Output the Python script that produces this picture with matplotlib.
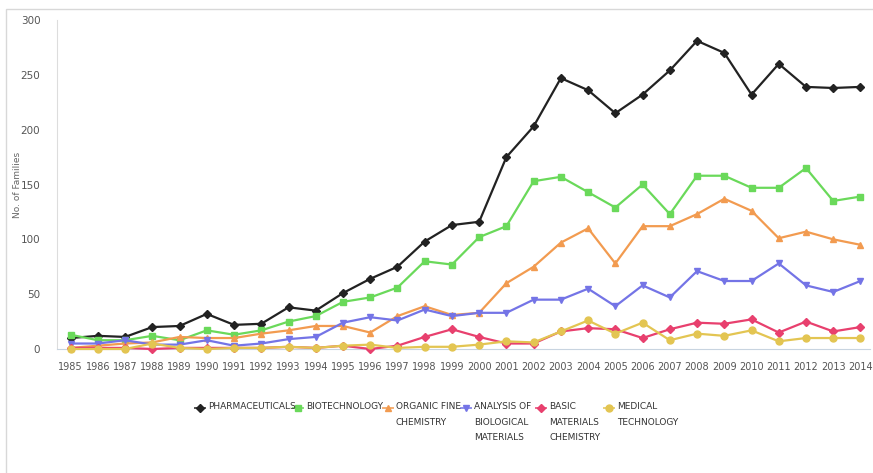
import matplotlib.pyplot as plt
from matplotlib.patches import Rectangle
from matplotlib.lines import Line2D

plt.rcParams['font.family'] = ['DejaVu Sans']

# data
years = list(range(1985, 2015))

pharma = [10, 12, 11, 20, 21, 32, 22, 23, 38, 35, 51, 64, 75, 98, 113, 116,
          175, 203, 247, 236, 215, 232, 254, 281, 270, 232, 260, 239, 238, 239]
biotech = [13, 8, 8, 12, 8, 17, 13, 17, 25, 30, 43, 47, 56, 80, 77, 102,
           112, 153, 157, 143, 129, 150, 123, 158, 158, 147, 147, 165, 135, 139]
organic = [1, 3, 5, 6, 11, 10, 10, 14, 17, 21, 21, 15, 30, 39, 31, 33,
           60, 75, 97, 110, 78, 112, 112, 123, 137, 126, 101, 107, 100, 95]
analysis = [5, 5, 8, 4, 4, 8, 3, 5, 9, 11, 24, 29, 26, 36, 30, 33,
            33, 45, 45, 55, 39, 58, 47, 71, 62, 62, 78, 58, 52, 62]
basic = [1, 1, 1, 0, 1, 1, 1, 1, 2, 1, 3, 0, 3, 11, 18, 11,
         5, 5, 16, 19, 18, 10, 18, 24, 23, 27, 15, 25, 16, 20]
medical = [0, 0, 0, 5, 1, 0, 1, 1, 2, 1, 3, 4, 1, 2, 2, 4,
           7, 6, 16, 26, 14, 24, 8, 14, 12, 17, 7, 10, 10, 10]

series = [
    ("PHARMACEUTICALS", pharma, "#222222", "D"),
    ("BIOTECHNOLOGY", biotech, "#6ad95a", "s"),
    ("ORGANIC FINE\nCHEMISTRY", organic, "#f29b50", "^"),
    ("ANALYSIS OF\nBIOLOGICAL\nMATERIALS", analysis, "#7474e6", "v"),
    ("BASIC\nMATERIALS\nCHEMISTRY", basic, "#e8406e", "D"),
    ("MEDICAL\nTECHNOLOGY", medical, "#e3c552", "o"),
]
# legend marker x positions (pixels)
legend_x = [200, 298, 388, 466, 541, 609]

W, H = 873, 473
fig = plt.figure(figsize=(W / 100, H / 100), dpi=100)
ax = fig.add_axes([57 / W, 1 - 349 / H, 813 / W, 329 / H])

# light frame around the whole picture
fig.patches.append(Rectangle((6 / W, -0.01), 1.0, 1 - 9 / H + 0.01,
                             transform=fig.transFigure, fill=False,
                             edgecolor="#d8d8d8", linewidth=1))

for (label, vals, color, marker), lx in zip(series, legend_x):
    ms = 4 if marker == "D" else 5
    ax.plot(years, vals, color=color, marker=marker, markersize=ms,
            linewidth=1.6, clip_on=False, zorder=3)
    # legend entry
    y0 = 1 - 408 / H
    fig.lines.append(Line2D([(lx - 5) / W, (lx + 5) / W], [y0, y0],
                            transform=fig.transFigure, color=color,
                            linewidth=1.4, alpha=0.8))
    fig.lines.append(Line2D([lx / W], [y0], transform=fig.transFigure,
                            color=color, marker=marker, markersize=ms))
    fig.text((lx + 8) / W, 1 - 402 / H, label, fontsize=6.5, color="#333333",
             va="top", ha="left", linespacing=1.95)

ax.set_xlim(1984.5, 2014.35)
ax.set_ylim(0, 300)
ax.set_xticks(years)
ax.set_xticklabels([str(y) for y in years])
ax.set_yticks(range(0, 301, 50))

for s in ["top", "right"]:
    ax.spines[s].set_visible(False)
ax.spines["left"].set_color("#dddddd")
ax.spines["bottom"].set_color("#c8d4e0")
ax.tick_params(axis="both", length=0, colors="#555555")
ax.tick_params(axis="x", pad=9, labelsize=7)
ax.tick_params(axis="y", pad=12, labelsize=7.5)

ax.set_ylabel("No. of Families", fontsize=6.5, color="#666666")
ax.yaxis.set_label_coords(-(57 - 22) / 813, 0.5)

fig.savefig("out.png", dpi=100)
